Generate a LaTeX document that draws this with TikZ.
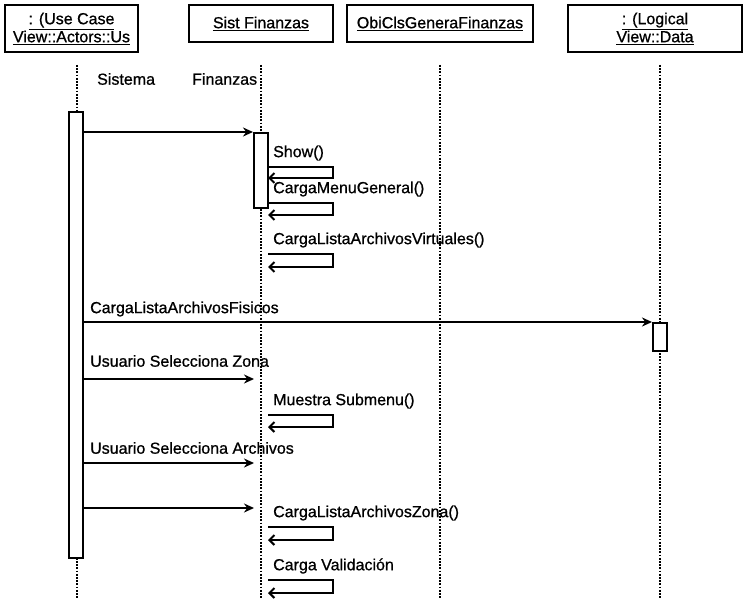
\documentclass[tikz,border=0pt]{standalone}
\usepackage{fontspec}
\setmainfont{Liberation Sans}
\usepackage{tikz}
\usetikzlibrary{arrows.meta,positioning,calc}

\tikzset{
  headbox/.style={rectangle, draw, line width=2.2pt, align=center, inner sep=0pt},
  lifeline/.style={line width=2.6pt, dash pattern=on 1.8pt off 1.4pt},
  actbar/.style={rectangle, draw, line width=2pt, fill=white, inner sep=0pt, minimum width=14pt},
  msg/.style={line width=2pt, -{Stealth[length=10pt,width=9pt]}},
  selfmsg/.style={line width=2pt, -{Straight Barb[length=5pt,width=10pt]}},
  msglabel/.style={anchor=west, inner sep=0pt}
}

\begin{document}
\begin{tikzpicture}[x=1pt, y=-1pt, font=\fontsize{16}{18}\selectfont\addfontfeature{FakeBold=0.8}]
  \useasboundingbox[fill=white] (0,0) rectangle (751,599);

  % objects
  \node[headbox, minimum width=133pt, minimum height=47pt] (actor) at (71.5,28.5)
    {\underline{: (Use Case}\\\underline{View::Actors::Us}};
  \node[headbox, minimum width=144pt, minimum height=37pt] (sist) at (261,23.5)
    {\underline{Sist Finanzas}};
  \node[headbox, minimum width=186pt, minimum height=37pt] (objcls) at (440,23.5)
    {\underline{ObiClsGeneraFinanzas}};
  \node[headbox, minimum width=174pt, minimum height=47pt] (logdata) at (655,28.5)
    {\underline{: (Logical}\\\underline{View::Data}};

  \node[msglabel] (sistema) at (97,79) {Sistema};
  \node[msglabel] (finanzas) at (192,79) {Finanzas};

  % lifelines
  \coordinate (lifeA) at (77,65);
  \coordinate (lifeS) at (261,65);
  \coordinate (lifeO) at (440,65);
  \coordinate (lifeD) at (660,65);
  \foreach \l in {lifeA,lifeS,lifeO,lifeD}
    \draw[lifeline] (\l) -- (\l |- 0,599);

  % activations
  \node[actbar, minimum height=446pt] (barA) at (76,335) {};
  \node[actbar, minimum height=75pt] (barS) at (261,170.5) {};
  \node[actbar, minimum height=28pt] (barD) at (660,337) {};
  \coordinate (sistR) at (268,65);
  \coordinate (sistL) at (254,65);

  % messages
  \draw[msg] (barA.east |- barS.north) -- (barS.north west);
  \node[msglabel] (fisicos) at (90,309) {CargaListaArchivosFisicos};
  \draw[msg] (barA.east |- barD.north) -- (barD.north west);
  \node[msglabel] (zona) at (90,361) {Usuario Selecciona Zona};
  \draw[msg] (barA.east |- 0,379) -- (sistL |- 0,379);
  \node[msglabel] (archivos) at (90,448) {Usuario Selecciona Archivos};
  \draw[msg] (barA.east |- 0,463) -- (sistL |- 0,463);
  \draw[msg] (barA.east |- 0,508) -- (sistL |- 0,508);

  % self calls
  \foreach \ya/\yb/\txt in {167/178/Show(), 203/215/CargaMenuGeneral(),
      254/267/CargaListaArchivosVirtuales(), 415/427/Muestra Submenu(),
      527/540/CargaListaArchivosZona(), 580/593/Carga Validación}{
    \node[msglabel] at (273,\ya-14) {\txt};
    \draw[selfmsg] (sistR |- 0,\ya) -- ++(65,0) -- ++(0,{\yb-\ya}) -- ++(-65,0);
  }
\end{tikzpicture}
\end{document}
